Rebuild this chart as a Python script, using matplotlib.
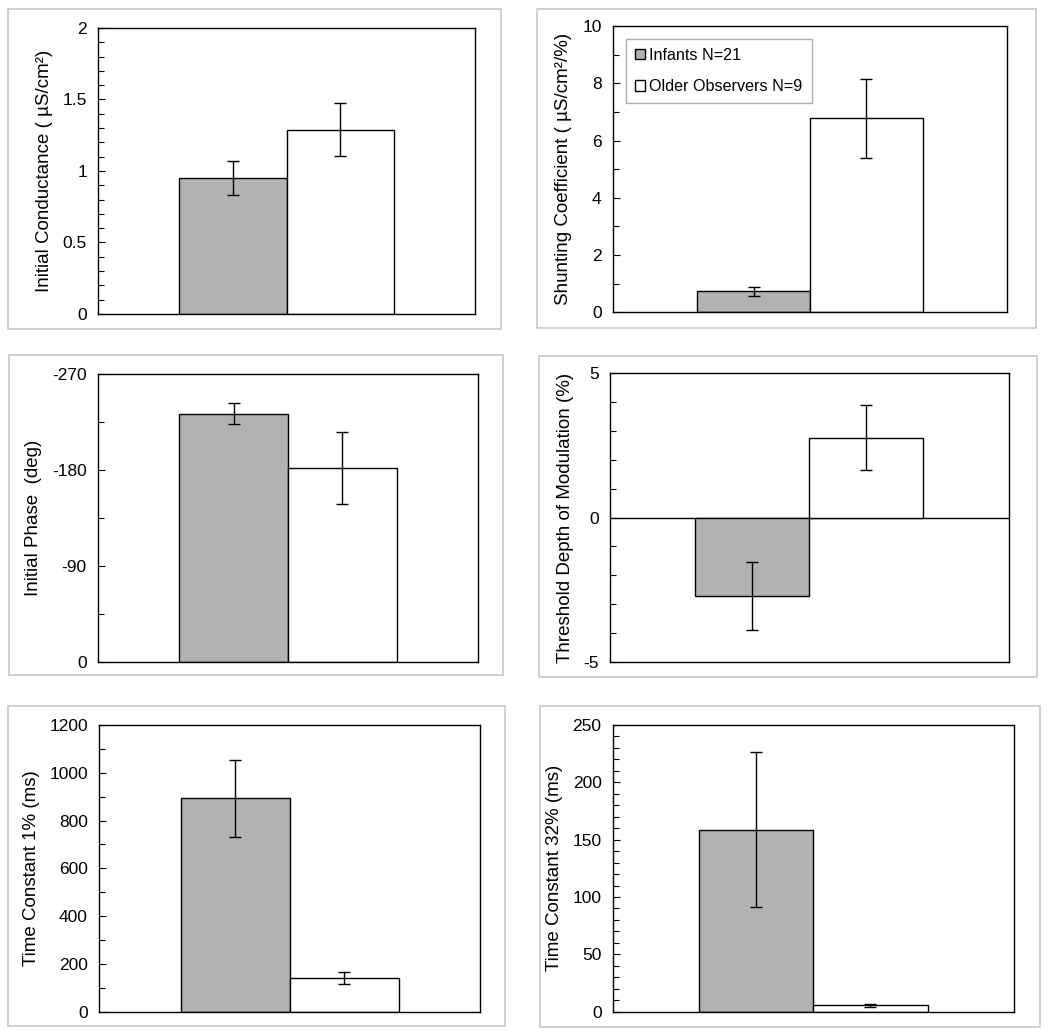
import matplotlib
matplotlib.use('Agg')
import matplotlib.pyplot as plt
from matplotlib.patches import Rectangle
from matplotlib.ticker import MultipleLocator, FuncFormatter

plt.rcParams['font.family'] = ['Liberation Sans', 'DejaVu Sans']
plt.rcParams['font.size'] = 12
plt.rcParams['axes.unicode_minus'] = False

groups = ['Infants N=21', 'Older Observers N=9']

conductance = [0.95, 1.29]
conductance_err = [0.117, 0.185]

shunting = [0.73, 6.77]
shunting_err = [0.15, 1.37]

phase = [-233, -182]
phase_err = [10, 34]

depth = [-2.72, 2.76]
depth_err = [1.19, 1.13]

tc1 = [893, 140]
tc1_err = [161, 26]

tc32 = [158.7, 5.6]
tc32_err = [67.7, 1.2]

gray = '#b2b2b2'
W, H = 1050, 1035

fig = plt.figure(figsize=(10.5, 10.35), dpi=100)


def px_axes(x0, x1, y0, y1):
    return fig.add_axes([x0 / W, 1 - y1 / H, (x1 - x0) / W, (y1 - y0) / H])


def frame(x0, x1, y0, y1):
    fig.patches.append(Rectangle((x0 / W, 1 - y1 / H), (x1 - x0) / W, (y1 - y0) / H,
                                 transform=fig.transFigure, fill=False,
                                 edgecolor='#c8c8c8', linewidth=1.2, zorder=0))


def panel(ax, vals, errs, ylabel, ylim, major, minor):
    bars = ax.bar([-0.5, 0.5], vals, width=1.0, color=[gray, 'white'],
                  edgecolor='black', linewidth=1.0, zorder=2)
    ax.errorbar([-0.5, 0.5], vals, yerr=errs, fmt='none', ecolor='black',
                elinewidth=1.0, capsize=4, capthick=1.0, zorder=3)
    ax.set_xlim(-1.75, 1.75)
    ax.set_ylim(*ylim)
    ax.set_xticks([])
    ax.yaxis.set_major_locator(MultipleLocator(major))
    ax.yaxis.set_minor_locator(MultipleLocator(minor))
    ax.yaxis.set_major_formatter(FuncFormatter(lambda v, p: f'{v:g}'))
    ax.tick_params(axis='y', which='major', direction='in', length=5, width=0.8, pad=8, labelsize=12.5)
    ax.tick_params(axis='y', which='minor', direction='in', length=4, width=0.8)
    for s in ax.spines.values():
        s.set_linewidth(1.0)
    ax.set_ylabel(ylabel, fontsize=13.5, labelpad=7)
    return bars


frame(8, 501, 9, 329)
frame(537, 1036, 9, 328)
frame(9, 503, 355, 675)
frame(539, 1037, 356, 677)
frame(8, 505, 706, 1026)
frame(540, 1040, 706, 1027)

ax1 = px_axes(98, 475, 28, 314)
panel(ax1, conductance, conductance_err, 'Initial Conductance ( µS/cm²)', (0, 2), 0.5, 0.1)

ax2 = px_axes(612.7, 1007.3, 26, 312.3)
bars = panel(ax2, shunting, shunting_err, 'Shunting Coefficient ( µS/cm²/%)', (0, 10), 2, 1)
leg = ax2.legend([bars[0], bars[1]], groups, loc='upper left', bbox_to_anchor=(0.034, 0.954),
                 borderaxespad=0, fancybox=False, edgecolor='#b0b0b0', framealpha=1,
                 handlelength=0.6, handleheight=0.6, handletextpad=0.3, labelspacing=1.0,
                 borderpad=0.55, fontsize=11.6)
leg.get_frame().set_linewidth(1.0)

ax3 = px_axes(97.7, 478.3, 374.3, 661.7)
panel(ax3, phase, phase_err, 'Initial Phase  (deg)', (0, -270), 90, 45)
ax3.set_yticks([-270, -180, -90, 0])

ax4 = px_axes(610, 1008.7, 373.3, 661.7)
panel(ax4, depth, depth_err, 'Threshold Depth of Modulation (%)', (-5, 5), 5, 1)
ax4.axhline(0, color='black', linewidth=1.0, zorder=1)

ax5 = px_axes(99, 480.3, 725, 1011.7)
panel(ax5, tc1, tc1_err, 'Time Constant 1% (ms)', (0, 1200), 200, 100)

ax6 = px_axes(612.7, 1013.7, 725, 1011.7)
panel(ax6, tc32, tc32_err, 'Time Constant 32% (ms)', (0, 250), 50, 10)

fig.savefig('out.png', dpi=100, facecolor='white')
